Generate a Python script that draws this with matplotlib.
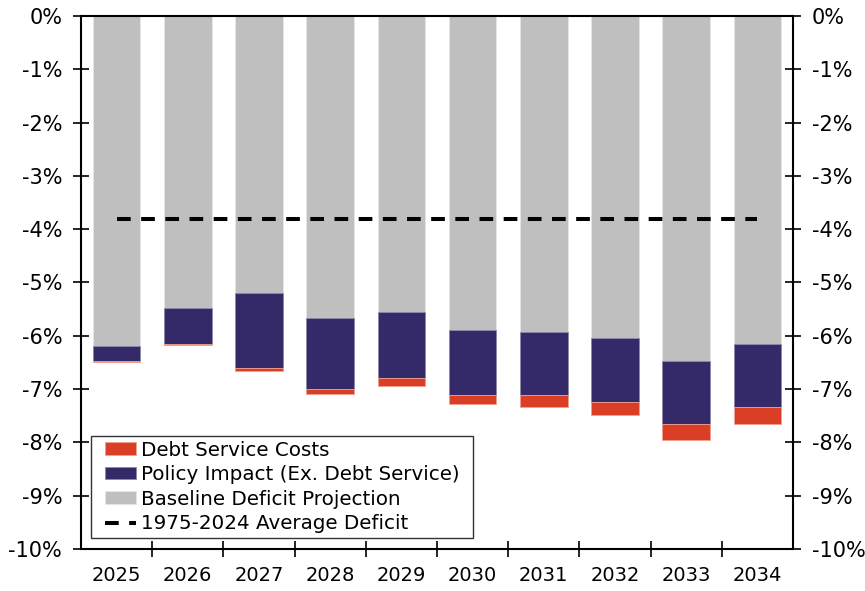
import matplotlib.pyplot as plt
import numpy as np
from matplotlib.path import Path

years = ['2025', '2026', '2027', '2028', '2029', '2030', '2031', '2032', '2033', '2034']
baseline = [-6.20, -5.48, -5.19, -5.67, -5.55, -5.89, -5.93, -6.05, -6.48, -6.15]
policy = [-0.27, -0.67, -1.42, -1.32, -1.25, -1.22, -1.18, -1.19, -1.18, -1.18]
debt = [-0.02, -0.02, -0.06, -0.10, -0.14, -0.17, -0.22, -0.24, -0.29, -0.32]
avg_deficit = -3.8

red = '#DA3F26'
purple = '#352A69'
grey = '#BFBFBF'

plt.rcParams['font.family'] = 'DejaVu Sans'


def legend_frame(x0, y0, width, height, mutation_size):
    # wider on the sides than on top/bottom
    px = 0.45 * mutation_size
    x0, x1 = x0 - px, x0 + width + px
    y1 = y0 + height
    return Path([(x0, y0), (x1, y0), (x1, y1), (x0, y1), (x0, y0)], closed=True)


fig = plt.figure(figsize=(8.65, 5.91), dpi=100)
ax = fig.add_axes([0.0936, 0.0711, 0.8232, 0.9019])

x = np.arange(len(years))
base = np.array(baseline)
pol = np.array(policy)
w = 0.67

b_base = ax.bar(x, base, w, color=grey, edgecolor='#E6E6E6', linewidth=0.6)
b_pol = ax.bar(x, pol, w, bottom=base, color=purple, edgecolor='#8C86A8', linewidth=0.6)
b_debt = ax.bar(x, debt, w, bottom=base + pol, color=red, edgecolor='#F0A090', linewidth=0.6)
avg_line, = ax.plot([x[0], x[-1]], [avg_deficit, avg_deficit], color='black',
                    linestyle=(0, (3.4, 2.6)), linewidth=2.9)

ax.set_xlim(-0.5, len(years) - 0.5)
ax.set_ylim(-10, 0)
ax.set_yticks(np.arange(-10, 1, 1))
ax.set_yticklabels(['%d%%' % v for v in range(-10, 1)])
ax.set_xticks(x)
ax.set_xticklabels(years)
ax.set_xticks(np.arange(0.5, len(years) - 1, 1), minor=True)
ax.tick_params(axis='x', which='major', length=0, labelsize=14, pad=12)
ax.tick_params(axis='x', which='minor', direction='inout', length=12, width=1.2)
ax.tick_params(axis='y', direction='inout', length=12, width=1.2, labelsize=15,
               left=True, right=True, labelleft=True, labelright=True, pad=7.5)
for s in ax.spines.values():
    s.set_linewidth(1.5)

leg = ax.legend([b_debt, b_pol, b_base, avg_line],
                ['Debt Service Costs', 'Policy Impact (Ex. Debt Service)',
                 'Baseline Deficit Projection', '1975-2024 Average Deficit'],
                loc='lower left', bbox_to_anchor=(0.027, 0.021), fontsize=14.3,
                frameon=True, fancybox=False, edgecolor='black', borderaxespad=0,
                handlelength=1.55, handleheight=0.6, handletextpad=0.25,
                labelspacing=0.28, borderpad=0.23)
leg.get_frame().set_linewidth(1.0)
leg.get_frame().set_boxstyle(legend_frame)

fig.savefig('out.png', dpi=100)
